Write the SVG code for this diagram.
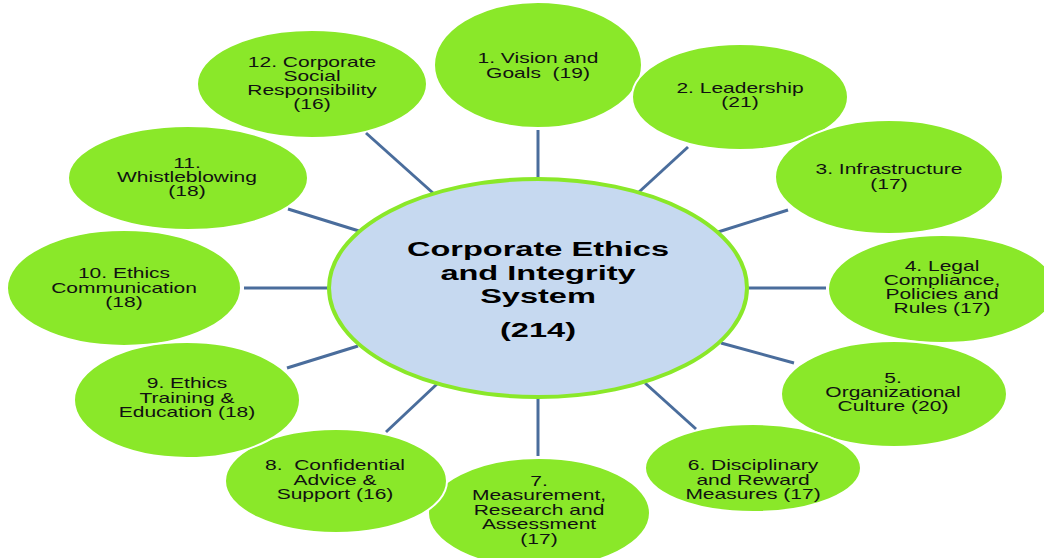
<svg xmlns="http://www.w3.org/2000/svg" width="1044" height="558" viewBox="0 0 1044 558">
<style>
.n{fill:#8ae829;stroke:#ffffff;stroke-width:2}
.t{font-family:"Liberation Sans",Arial,sans-serif;font-size:14px;fill:#111;text-anchor:middle;white-space:pre}
.c{font-family:"Liberation Sans",Arial,sans-serif;font-size:21px;font-weight:bold;fill:#000;text-anchor:middle}
.l{stroke:#4a6d9c;stroke-width:3;fill:none}
</style>
<rect width="1044" height="558" fill="#ffffff"/>
<g id="node1"><ellipse class="n" cx="538" cy="65" rx="104" ry="63"/>
<text class="t" transform="translate(538 0) scale(1.5 1)"><tspan x="0" y="63">1. Vision and</tspan><tspan x="0" y="78">Goals  (19)</tspan></text></g>
<g id="node2"><ellipse class="n" cx="740" cy="97" rx="108" ry="53"/>
<text class="t" transform="translate(740 0) scale(1.5 1)"><tspan x="0" y="93">2. Leadership</tspan><tspan x="0" y="107">(21)</tspan></text></g>
<g id="node3"><ellipse class="n" cx="889" cy="177" rx="114" ry="57"/>
<text class="t" transform="translate(889 0) scale(1.5 1)"><tspan x="0" y="174">3. Infrastructure</tspan><tspan x="0" y="189">(17)</tspan></text></g>
<g id="node4"><ellipse class="n" cx="942" cy="289" rx="114" ry="54"/>
<text class="t" transform="translate(942 0) scale(1.5 1)"><tspan x="0" y="271">4. Legal</tspan><tspan x="0" y="285">Compliance,</tspan><tspan x="0" y="299">Policies and</tspan><tspan x="0" y="313">Rules (17)</tspan></text></g>
<g id="node5"><ellipse class="n" cx="894" cy="394" rx="113" ry="53"/>
<text class="t" transform="translate(893 0) scale(1.5 1)"><tspan x="0" y="383">5.</tspan><tspan x="0" y="397">Organizational</tspan><tspan x="0" y="411">Culture (20)</tspan></text></g>
<g id="node7"><ellipse class="n" cx="539" cy="513" rx="111" ry="55"/>
<text class="t" transform="translate(539 0) scale(1.5 1)"><tspan x="0" y="486">7.</tspan><tspan x="0" y="500">Measurement,</tspan><tspan x="0" y="515">Research and</tspan><tspan x="0" y="529">Assessment</tspan><tspan x="0" y="544">(17)</tspan></text></g>
<g id="node6"><ellipse class="n" cx="753" cy="468" rx="108" ry="44"/>
<text class="t" transform="translate(753 0) scale(1.5 1)"><tspan x="0" y="470">6. Disciplinary</tspan><tspan x="0" y="485">and Reward</tspan><tspan x="0" y="499">Measures (17)</tspan></text></g>
<g id="node8"><ellipse class="n" cx="336" cy="481" rx="111" ry="52"/>
<text class="t" transform="translate(335 0) scale(1.5 1)"><tspan x="0" y="470">8.  Confidential</tspan><tspan x="0" y="485">Advice &amp;</tspan><tspan x="0" y="499">Support (16)</tspan></text></g>
<g id="node10"><ellipse class="n" cx="124" cy="288" rx="117" ry="58"/>
<text class="t" transform="translate(124 0) scale(1.5 1)"><tspan x="0" y="278">10. Ethics</tspan><tspan x="0" y="293">Communication</tspan><tspan x="0" y="307">(18)</tspan></text></g>
<g id="node9"><ellipse class="n" cx="187" cy="400" rx="113" ry="58"/>
<text class="t" transform="translate(187 0) scale(1.5 1)"><tspan x="0" y="388">9. Ethics</tspan><tspan x="0" y="403">Training &amp;</tspan><tspan x="0" y="417">Education (18)</tspan></text></g>
<g id="node11"><ellipse class="n" cx="188" cy="178" rx="120" ry="52"/>
<text class="t" transform="translate(187 0) scale(1.5 1)"><tspan x="0" y="168">11.</tspan><tspan x="0" y="182">Whistleblowing</tspan><tspan x="0" y="196">(18)</tspan></text></g>
<g id="node12"><ellipse class="n" cx="312" cy="84" rx="115" ry="54"/>
<text class="t" transform="translate(312 0) scale(1.5 1)"><tspan x="0" y="67">12. Corporate</tspan><tspan x="0" y="81">Social</tspan><tspan x="0" y="95">Responsibility</tspan><tspan x="0" y="109">(16)</tspan></text></g>
<g id="connectors">
<line class="l" x1="538" y1="130" x2="538" y2="180"/>
<line class="l" x1="688" y1="147" x2="639" y2="192"/>
<line class="l" x1="788" y1="210" x2="718" y2="232"/>
<line class="l" x1="746" y1="288" x2="826" y2="288"/>
<line class="l" x1="721" y1="343" x2="794" y2="363"/>
<line class="l" x1="645" y1="383" x2="696" y2="429"/>
<line class="l" x1="538" y1="396" x2="538" y2="456"/>
<line class="l" x1="437" y1="384" x2="386" y2="432"/>
<line class="l" x1="358" y1="346" x2="287" y2="368"/>
<line class="l" x1="244" y1="288" x2="330" y2="288"/>
<line class="l" x1="288" y1="209" x2="359" y2="231"/>
<line class="l" x1="366" y1="133" x2="433" y2="193"/>
</g>
<g id="center"><ellipse cx="538" cy="288" rx="209" ry="109" fill="#c6d9f0" stroke="#8ae829" stroke-width="4"/>
<text class="c" transform="translate(538 0) scale(1.55 1)"><tspan x="0" y="256">Corporate Ethics</tspan><tspan x="0" y="280">and Integrity</tspan><tspan x="0" y="303">System</tspan><tspan x="0" y="337">(214)</tspan></text></g>
</svg>
